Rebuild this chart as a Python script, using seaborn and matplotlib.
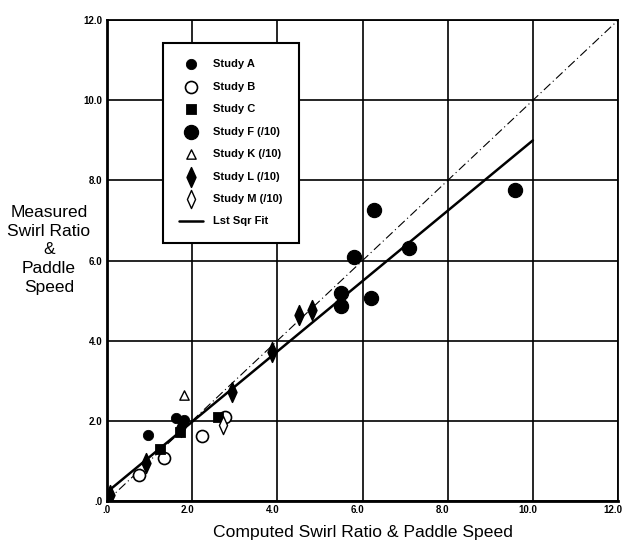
import seaborn as sns
import matplotlib.pyplot as plt
import matplotlib.transforms as mtransforms
from matplotlib.path import Path
from matplotlib.ticker import MultipleLocator, FixedLocator

# data
a_x = [0.97, 1.62, 1.80]
a_y = [1.65, 2.08, 2.02]
b_x = [0.75, 1.34, 2.24, 2.78]
b_y = [0.64, 1.08, 1.63, 2.10]
c_x = [1.24, 1.72, 2.62]
c_y = [1.29, 1.72, 2.10]
f_x = [5.50, 5.50, 5.81, 6.26, 6.20, 7.10, 9.58]
f_y = [5.20, 4.87, 6.10, 7.25, 5.06, 6.31, 7.77]
k_x = [1.81]
k_y = [2.65]
l_x = [0.08, 0.91, 1.75, 2.94, 3.88, 4.52, 4.81]
l_y = [0.15, 0.96, 1.85, 2.73, 3.73, 4.63, 4.77]
m_x = [2.73]
m_y = [1.90]
fit_x = [0.0, 10.0]
fit_y = [0.22, 9.0]
one_x = [0.0, 12.0]
one_y = [0.0, 12.0]
tick_vals = [0, 2, 4, 6, 8, 10, 12]
tick_labels = [".0", "2.0", "4.0", "6.0", "8.0", "10.0", "12.0"]

sns.set_style("white")
plt.rcParams["font.family"] = ["Liberation Sans", "DejaVu Sans"]
plt.rcParams["text.color"] = "black"
plt.rcParams["axes.labelcolor"] = "black"
plt.rcParams["xtick.color"] = "black"
plt.rcParams["ytick.color"] = "black"

fig = plt.figure(figsize=(6.25, 5.44), dpi=100)
ax = fig.add_axes([0.171, 0.079, 0.818, 0.884])

tall_diamond = Path([(0, 1), (0.45, 0), (0, -1), (-0.45, 0), (0, 1)],
                    [Path.MOVETO, Path.LINETO, Path.LINETO, Path.LINETO, Path.CLOSEPOLY])

# reference lines
sns.lineplot(x=one_x, y=one_y, ax=ax, color="black", lw=0.8,
             linestyle=(0, (8, 3, 1, 3)), zorder=2)
sns.lineplot(x=fit_x, y=fit_y, ax=ax, color="black", lw=1.8, zorder=3,
             label="Lst Sqr Fit")

# studies
sns.scatterplot(x=a_x, y=a_y, ax=ax, marker="o", s=55, color="black",
                edgecolor="black", label="Study A", zorder=4)
sns.scatterplot(x=b_x, y=b_y, ax=ax, marker="o", s=75, facecolor="white",
                edgecolor="black", linewidth=1.2, label="Study B", zorder=4)
sns.scatterplot(x=c_x, y=c_y, ax=ax, marker="s", s=55, color="black",
                edgecolor="black", label="Study C", zorder=4)
sns.scatterplot(x=f_x, y=f_y, ax=ax, marker="o", s=105, color="black",
                edgecolor="black", label="Study F (/10)", zorder=4)
sns.scatterplot(x=k_x, y=k_y, ax=ax, marker="^", s=45, facecolor="white",
                edgecolor="black", linewidth=1.0, label="Study K (/10)", zorder=4)
sns.scatterplot(x=l_x, y=l_y, ax=ax, marker=tall_diamond, s=200, color="black",
                edgecolor="black", label="Study L (/10)", zorder=4)
sns.scatterplot(x=m_x, y=m_y, ax=ax, marker=tall_diamond, s=170, facecolor="white",
                edgecolor="black", linewidth=1.0, label="Study M (/10)", zorder=4)

ax.set_xlim(0, 12)
ax.set_ylim(0, 12)
ax.xaxis.set_major_locator(FixedLocator(tick_vals))
ax.yaxis.set_major_locator(FixedLocator(tick_vals))
ax.set_xticklabels(tick_labels, fontsize=7, fontweight="bold")
ax.set_yticklabels(tick_labels, fontsize=7, fontweight="bold")
ax.xaxis.set_minor_locator(MultipleLocator(0.4))
ax.yaxis.set_minor_locator(MultipleLocator(0.4))
ax.tick_params(which="major", length=0, pad=3)
ax.tick_params(which="minor", direction="in", length=5, width=1, color="black")
ax.grid(True, which="major", color="black", lw=1.2)
for s in ax.spines.values():
    s.set_color("black")
    s.set_linewidth(1.3)
ax.spines["left"].set_linewidth(2)
ax.spines["bottom"].set_linewidth(2)

# x tick labels sit a little left of their gridlines in the original
shift = mtransforms.ScaledTranslation(-5 / 100, 0, fig.dpi_scale_trans)
for lab in ax.get_xticklabels()[1:]:
    lab.set_transform(lab.get_transform() + shift)

ax.set_xlabel("Computed Swirl Ratio & Paddle Speed", fontsize=12.6, labelpad=7)
ax.set_ylabel("Measured\nSwirl Ratio\n&\nPaddle\nSpeed", fontsize=12.5, rotation=0,
              ha="center", va="center", linespacing=1.3)
ax.yaxis.set_label_coords(-0.1135, 0.522)

handles, labels = ax.get_legend_handles_labels()
order = ["Study A", "Study B", "Study C", "Study F (/10)", "Study K (/10)",
         "Study L (/10)", "Study M (/10)", "Lst Sqr Fit"]
hmap = dict(zip(labels, handles))
leg = ax.legend([hmap[o] for o in order], order, loc="upper left",
                bbox_to_anchor=(0.1096, 0.952), borderaxespad=0,
                frameon=True, fancybox=False,
                edgecolor="black", labelspacing=1.12,
                handlelength=2.2, borderpad=1.45, handletextpad=0.9,
                prop={"weight": "bold", "size": 8})
leg.get_frame().set_linewidth(1.5)
leg.get_frame().set_alpha(1)

fig.savefig("out.png", dpi=100)
plt.close()
